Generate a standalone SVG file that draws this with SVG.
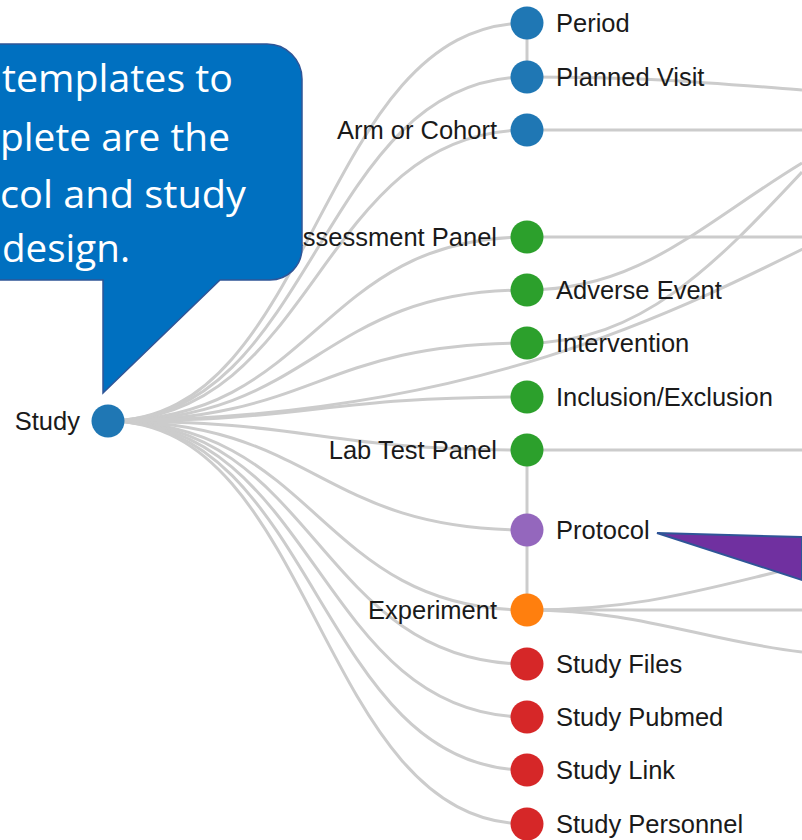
<svg xmlns="http://www.w3.org/2000/svg" width="802" height="840" viewBox="0 0 802 840">
<style>
.link{fill:none;stroke:#cccccc;stroke-width:3}
.lbl{font-family:"Liberation Sans",Arial,sans-serif;font-size:25.5px;fill:#1a1a1a}
.end{text-anchor:end}
.blue{fill:#1f77b4}.green{fill:#2ca02c}.purple{fill:#9467bd}.orange{fill:#ff7f0e}.red{fill:#d62728}
.callout{fill:#0070c0;stroke:#2f5597;stroke-width:1.5}
.ctext{font-family:"Open Sans","Liberation Sans",sans-serif;font-size:39px;fill:#ffffff}
</style>
<rect width="802" height="840" fill="#ffffff"/>
<g id="connectors">
<path class="link" d="M108,421 C317,421 317,23 527,23"/>
<path class="link" d="M108,421 C317,421 317,77 527,77"/>
<path class="link" d="M108,421 C317,421 317,130 527,130"/>
<path class="link" d="M108,421 C317,421 317,237 527,237"/>
<path class="link" d="M108,421 C317,421 317,290 527,290"/>
<path class="link" d="M108,421 C317,421 317,343 527,343"/>
<path class="link" d="M108,421 C317,421 317,397 527,397"/>
<path class="link" d="M108,421 C317,421 317,450 527,450"/>
<path class="link" d="M108,421 C317,421 317,530 527,530"/>
<path class="link" d="M108,421 C317,421 317,610 527,610"/>
<path class="link" d="M108,421 C317,421 317,664 527,664"/>
<path class="link" d="M108,421 C317,421 317,717 527,717"/>
<path class="link" d="M108,421 C317,421 317,770 527,770"/>
<path class="link" d="M108,421 C317,421 317,824 527,824"/>
<path class="link" d="M108,421 C500,418 700,300 900,200"/>
<path class="link" d="M527,23 V77"/>
<path class="link" d="M527,450 V610"/>
<path class="link" d="M527,77 C650,77 700,82 802,90"/>
<path class="link" d="M527,130 H802"/>
<path class="link" d="M527,237 H802"/>
<path class="link" d="M527,290 C640,290 700,225 802,163"/>
<path class="link" d="M527,343 C640,343 715,265 802,172"/>
<path class="link" d="M527,450 H802"/>
<path class="link" d="M527,610 C640,610 700,590 802,566"/>
<path class="link" d="M527,610 H802"/>
<path class="link" d="M527,610 C640,610 700,640 802,652"/>
</g>
<g id="n-study"><circle class="blue" cx="108" cy="421" r="16.5"/><text class="lbl end" x="80" y="430">Study</text></g>
<g id="n-period"><circle class="blue" cx="527" cy="23" r="16.5"/><text class="lbl" x="556" y="32">Period</text></g>
<g id="n-planned-visit"><circle class="blue" cx="527" cy="77" r="16.5"/><text class="lbl" x="556" y="86">Planned Visit</text></g>
<g id="n-arm"><circle class="blue" cx="527" cy="130" r="16.5"/><text class="lbl end" x="497" y="139">Arm or Cohort</text></g>
<g id="n-assessment"><circle class="green" cx="527" cy="237" r="16.5"/><text class="lbl end" x="497" y="246">Assessment Panel</text></g>
<g id="n-adverse"><circle class="green" cx="527" cy="290" r="16.5"/><text class="lbl" x="556" y="299">Adverse Event</text></g>
<g id="n-intervention"><circle class="green" cx="527" cy="343" r="16.5"/><text class="lbl" x="556" y="352">Intervention</text></g>
<g id="n-inclusion"><circle class="green" cx="527" cy="397" r="16.5"/><text class="lbl" x="556" y="406">Inclusion/Exclusion</text></g>
<g id="n-lab"><circle class="green" cx="527" cy="450" r="16.5"/><text class="lbl end" x="497" y="459">Lab Test Panel</text></g>
<g id="n-protocol"><circle class="purple" cx="527" cy="530" r="16.5"/><text class="lbl" x="556" y="539">Protocol</text></g>
<g id="n-experiment"><circle class="orange" cx="527" cy="610" r="16.5"/><text class="lbl end" x="497" y="619">Experiment</text></g>
<g id="n-files"><circle class="red" cx="527" cy="664" r="16.5"/><text class="lbl" x="556" y="673">Study Files</text></g>
<g id="n-pubmed"><circle class="red" cx="527" cy="717" r="16.5"/><text class="lbl" x="556" y="726">Study Pubmed</text></g>
<g id="n-link"><circle class="red" cx="527" cy="770" r="16.5"/><text class="lbl" x="556" y="779">Study Link</text></g>
<g id="n-personnel"><circle class="red" cx="527" cy="824" r="16.5"/><text class="lbl" x="556" y="833">Study Personnel</text></g>
<g id="callout">
<path class="callout" d="M-10,44 H267 A35,35 0 0 1 302,79 V248 A32,32 0 0 1 270,280 H220 L103,393 V280 H-10 Z"/>
<text class="ctext" x="2" y="92" textLength="231" lengthAdjust="spacingAndGlyphs">templates to</text>
<text class="ctext" x="0" y="151" textLength="230" lengthAdjust="spacingAndGlyphs">plete are the</text>
<text class="ctext" x="0" y="208" textLength="246" lengthAdjust="spacingAndGlyphs">col and study</text>
<text class="ctext" x="2" y="262" textLength="128" lengthAdjust="spacingAndGlyphs">design.</text>
</g>
<g id="protocol-pointer">
<polygon points="657,533 802,537 802,580" fill="#7030a0" stroke="#2f5597" stroke-width="2" stroke-linejoin="miter"/>
</g>
</svg>
